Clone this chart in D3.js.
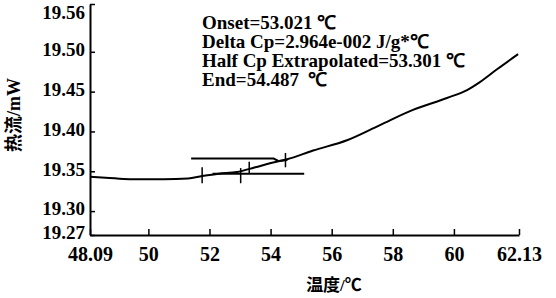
<!DOCTYPE html>
<html>
<head>
<meta charset="utf-8">
<script src="https://cdn.jsdelivr.net/npm/d3@7"></script>
<style>
body { margin:0; background:#fff; }
svg { display:block; }
</style>
</head>
<body>
<svg id="chart" width="556" height="298"></svg>
<script>
// DSC curve
var temp = [48.09, 48.6, 49.4, 50.5, 51.3, 51.76, 52.3, 52.9, 53.5, 53.98, 54.54, 55.39, 56.5, 57.58, 58.66, 59.77, 60.43, 60.85, 61.41, 62.1];
var heat = [19.343, 19.342, 19.340, 19.340, 19.341, 19.344, 19.347, 19.349, 19.355, 19.360, 19.365, 19.376, 19.389, 19.408, 19.427, 19.442, 19.452, 19.462, 19.478, 19.497];

// extrapolated baselines
var upperT = [51.4, 54.1, 54.25, 54.55];
var upperV = [19.366, 19.366, 19.363, 19.364];
var lowerT = [52.1, 55.1];
var lowerV = [19.347, 19.347];

// vertical markers (start, onset, half cp, end)
var markT  = [51.76, 53.021, 53.301, 54.487];
var markLo = [19.335, 19.335, 19.347, 19.355];
var markHi = [19.355, 19.354, 19.362, 19.373];

var xTicks = [48.09, 50, 52, 54, 56, 58, 60, 62.13];
var xLabels = ["48.09", "50", "52", "54", "56", "58", "60", "62.13"];
var yTicks = [19.27, 19.30, 19.35, 19.40, 19.45, 19.50, 19.56];
var yLabels = ["19.27", "19.30", "19.35", "19.40", "19.45", "19.50", "19.56"];

var notes = ["Onset=53.021 \u2103", "Delta Cp=2.964e-002 J/g*\u2103", "Half Cp Extrapolated=53.301 \u2103", "End=54.487  \u2103"];

var svg = d3.select("#chart");
var x = d3.scaleLinear().domain([48.09, 62.13]).range([90, 519]);
var y = d3.scaleLinear().domain([19.27, 19.56]).range([235, 4]);

var serif = "'Liberation Serif','Times New Roman',serif";

// x axis
var gx = svg.append("g").attr("transform", "translate(0," + y(19.27) + ")")
    .call(d3.axisBottom(x).tickValues(xTicks).tickSizeInner(-6).tickSizeOuter(0).tickPadding(12)
        .tickFormat(function(d, i) { return xLabels[i]; }));
gx.attr("font-family", serif).attr("font-size", 20).attr("font-weight", "bold");
gx.select(".domain").attr("stroke-width", 2);
gx.selectAll(".tick line").attr("stroke-width", 1.5);
gx.selectAll(".tick text").attr("fill", "#000");

// y axis
var gy = svg.append("g").attr("transform", "translate(" + x(48.09) + ",0)")
    .call(d3.axisLeft(y).tickValues(yTicks).tickSizeInner(-5).tickSizeOuter(0).tickPadding(5)
        .tickFormat(function(d, i) { return yLabels[i]; }));
gy.attr("font-family", serif).attr("font-size", 19).attr("font-weight", "bold");
gy.select(".domain").attr("stroke-width", 2);
gy.selectAll(".tick line").attr("stroke-width", 1.5);
gy.selectAll(".tick text").attr("fill", "#000")
    .attr("dy", function(d) { return d == 19.56 ? "0.75em" : "0.2em"; });

var line = d3.line().x(function(d) { return x(d[0]); }).y(function(d) { return y(d[1]); });

svg.append("path")
    .datum(d3.zip(temp, heat))
    .attr("d", line.curve(d3.curveMonotoneX))
    .attr("fill", "none").attr("stroke", "#000").attr("stroke-width", 2);

svg.append("path")
    .datum(d3.zip(upperT, upperV))
    .attr("d", line.curve(d3.curveLinear))
    .attr("fill", "none").attr("stroke", "#000").attr("stroke-width", 2);

svg.append("path")
    .datum(d3.zip(lowerT, lowerV))
    .attr("d", line.curve(d3.curveLinear))
    .attr("fill", "none").attr("stroke", "#000").attr("stroke-width", 2);

svg.selectAll(".mark")
    .data(markT).enter().append("line")
    .attr("class", "mark")
    .attr("x1", function(d) { return x(d); }).attr("x2", function(d) { return x(d); })
    .attr("y1", function(d, i) { return y(markLo[i]); })
    .attr("y2", function(d, i) { return y(markHi[i]); })
    .attr("stroke", "#000").attr("stroke-width", 1.5);

// annotation block
svg.selectAll(".note")
    .data(notes).enter().append("text")
    .attr("class", "note")
    .attr("x", 202)
    .attr("y", function(d, i) { return 29 + i * 19; })
    .attr("font-family", serif).attr("font-size", 19).attr("font-weight", "bold")
    .attr("xml:space", "preserve")
    .style("white-space", "pre")
    .text(function(d) { return d; });

// axis titles
svg.append("text")
    .attr("transform", "translate(20,115) rotate(-90)")
    .attr("text-anchor", "middle")
    .attr("font-family", "'Liberation Serif','Noto Sans CJK SC',serif")
    .attr("font-size", 18).attr("font-weight", "bold")
    .text("热流/mW");

svg.append("text")
    .attr("x", 334).attr("y", 291)
    .attr("text-anchor", "middle")
    .attr("font-family", "'Liberation Serif','Noto Sans CJK SC',serif")
    .attr("font-size", 17).attr("font-weight", "bold")
    .text("温度/\u2103");
</script>
</body>
</html>
